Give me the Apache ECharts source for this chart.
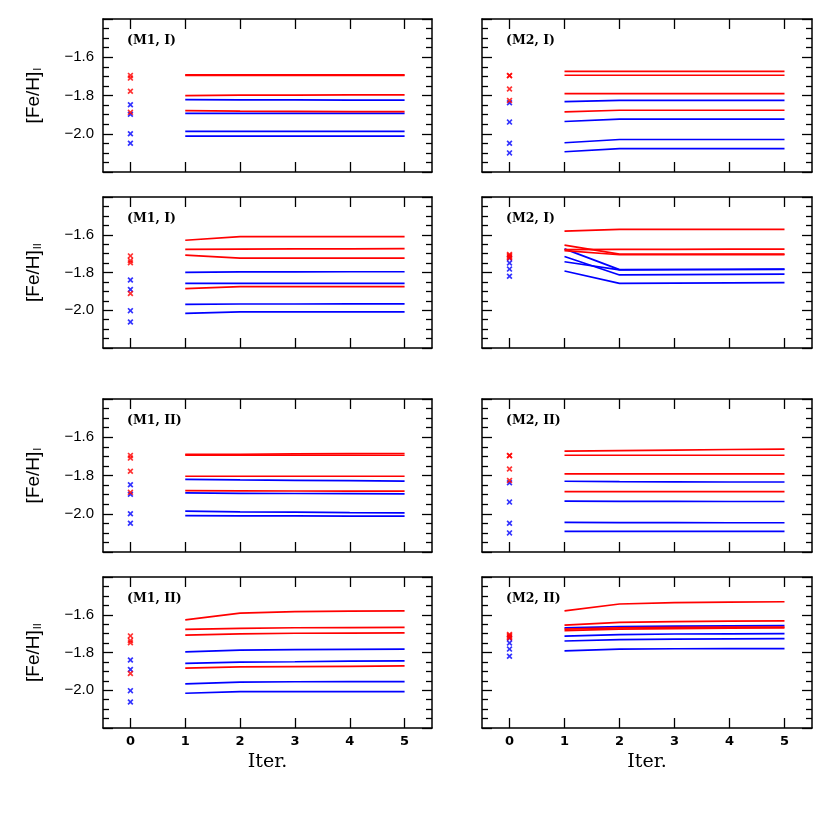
<!DOCTYPE html>
<html>
<head>
<meta charset="utf-8">
<script src="https://cdn.jsdelivr.net/npm/echarts@6/dist/echarts.min.js"></script>
<style>
html,body{margin:0;padding:0;background:#fff;}
#chart{width:830px;height:830px;}
</style>
</head>
<body>
<div id="chart"></div>
<script>
// ---------------- DATA ----------------
const ITER = [1, 2, 3, 4, 5];
const X_TICKS = [0, 1, 2, 3, 4, 5];
const PANEL_LABELS = ['(M1, I)', '(M2, I)', '(M1, I)', '(M2, I)', '(M1, II)', '(M2, II)', '(M1, II)', '(M2, II)'];
const ROW_NAMES = ['I', 'II', 'I', 'II'];   // subscript of [Fe/H]

// initial values (iteration 0)
const initL_FeI_red   = [-1.695, -1.709, -1.778, -1.888];
const initL_FeI_blue  = [-1.848, -1.898, -2.000, -2.050];
const initR_FeI_red   = [-1.695, -1.697, -1.766, -1.826];
const initR_FeI_blue  = [-1.838, -1.939, -2.050, -2.100];
const initL_FeII_red  = [-1.712, -1.737, -1.748, -1.911];
const initL_FeII_blue = [-1.840, -1.890, -2.002, -2.062];
const initR_FeII_red  = [-1.705, -1.710, -1.716, -1.722];
const initR_FeII_blue = [-1.724, -1.750, -1.782, -1.820];

// panel 1 : (M1, I)  [Fe/H]_I
const p1_red = [
  [-1.692, -1.692, -1.692, -1.692, -1.692],
  [-1.695, -1.695, -1.695, -1.695, -1.695],
  [-1.801, -1.798, -1.798, -1.797, -1.797],
  [-1.879, -1.882, -1.883, -1.884, -1.884]];
const p1_blue = [
  [-1.822, -1.823, -1.823, -1.824, -1.824],
  [-1.893, -1.893, -1.893, -1.893, -1.893],
  [-1.988, -1.988, -1.988, -1.988, -1.988],
  [-2.012, -2.012, -2.012, -2.012, -2.012]];
// panel 2 : (M2, I)  [Fe/H]_I
const p2_red = [
  [-1.674, -1.674, -1.674, -1.674, -1.674],
  [-1.694, -1.694, -1.694, -1.694, -1.694],
  [-1.790, -1.790, -1.790, -1.790, -1.790],
  [-1.886, -1.877, -1.877, -1.877, -1.877]];
const p2_blue = [
  [-1.832, -1.826, -1.825, -1.825, -1.825],
  [-1.936, -1.924, -1.924, -1.924, -1.924],
  [-2.047, -2.030, -2.030, -2.030, -2.030],
  [-2.094, -2.078, -2.078, -2.078, -2.078]];
// panel 3 : (M1, I)  [Fe/H]_II
const p3_red = [
  [-1.629, -1.610, -1.610, -1.610, -1.610],
  [-1.677, -1.676, -1.675, -1.675, -1.674],
  [-1.708, -1.724, -1.724, -1.724, -1.724],
  [-1.885, -1.875, -1.875, -1.875, -1.875]];
const p3_blue = [
  [-1.799, -1.797, -1.797, -1.796, -1.796],
  [-1.858, -1.858, -1.858, -1.858, -1.858],
  [-1.969, -1.967, -1.967, -1.966, -1.966],
  [-2.017, -2.009, -2.009, -2.009, -2.009]];
// panel 4 : (M2, I)  [Fe/H]_II
const p4_red = [
  [-1.581, -1.571, -1.571, -1.571, -1.571],
  [-1.655, -1.703, -1.703, -1.703, -1.703],
  [-1.679, -1.677, -1.677, -1.676, -1.676],
  [-1.684, -1.706, -1.706, -1.705, -1.705]];
const p4_blue = [
  [-1.675, -1.785, -1.784, -1.783, -1.782],
  [-1.715, -1.813, -1.811, -1.810, -1.809],
  [-1.743, -1.786, -1.785, -1.784, -1.783],
  [-1.792, -1.858, -1.856, -1.855, -1.854]];
// panel 5 : (M1, II)  [Fe/H]_I
const p5_red = [
  [-1.690, -1.689, -1.687, -1.686, -1.685],
  [-1.693, -1.693, -1.694, -1.694, -1.694],
  [-1.804, -1.804, -1.804, -1.804, -1.804],
  [-1.879, -1.880, -1.881, -1.882, -1.882]];
const p5_blue = [
  [-1.820, -1.823, -1.825, -1.827, -1.829],
  [-1.891, -1.893, -1.894, -1.895, -1.896],
  [-1.986, -1.990, -1.992, -1.994, -1.995],
  [-2.010, -2.011, -2.011, -2.012, -2.012]];
// panel 6 : (M2, II)  [Fe/H]_I
const p6_red = [
  [-1.673, -1.670, -1.667, -1.664, -1.662],
  [-1.694, -1.694, -1.694, -1.694, -1.694],
  [-1.792, -1.792, -1.792, -1.792, -1.792],
  [-1.884, -1.884, -1.884, -1.884, -1.884]];
const p6_blue = [
  [-1.830, -1.832, -1.833, -1.834, -1.834],
  [-1.934, -1.935, -1.935, -1.936, -1.936],
  [-2.045, -2.046, -2.046, -2.047, -2.047],
  [-2.092, -2.092, -2.092, -2.092, -2.092]];
// panel 7 : (M1, II)  [Fe/H]_II
const p7_red = [
  [-1.627, -1.591, -1.583, -1.581, -1.579],
  [-1.677, -1.672, -1.669, -1.668, -1.667],
  [-1.708, -1.701, -1.698, -1.697, -1.696],
  [-1.883, -1.876, -1.875, -1.873, -1.871]];
const p7_blue = [
  [-1.797, -1.787, -1.785, -1.783, -1.782],
  [-1.858, -1.851, -1.849, -1.846, -1.844],
  [-1.966, -1.957, -1.955, -1.954, -1.954],
  [-2.016, -2.007, -2.007, -2.007, -2.007]];
// panel 8 : (M2, II)  [Fe/H]_II
const p8_red = [
  [-1.579, -1.543, -1.536, -1.533, -1.531],
  [-1.655, -1.640, -1.636, -1.634, -1.632],
  [-1.676, -1.670, -1.667, -1.666, -1.665],
  [-1.684, -1.676, -1.673, -1.671, -1.670]];
const p8_blue = [
  [-1.670, -1.663, -1.660, -1.659, -1.658],
  [-1.713, -1.705, -1.702, -1.701, -1.700],
  [-1.739, -1.732, -1.729, -1.728, -1.727],
  [-1.791, -1.782, -1.780, -1.779, -1.779]];

// ---------------- BUILD ----------------
const panels = [
  {red0: initL_FeI_red,  blue0: initL_FeI_blue,  red: p1_red, blue: p1_blue},
  {red0: initR_FeI_red,  blue0: initR_FeI_blue,  red: p2_red, blue: p2_blue},
  {red0: initL_FeII_red, blue0: initL_FeII_blue, red: p3_red, blue: p3_blue},
  {red0: initR_FeII_red, blue0: initR_FeII_blue, red: p4_red, blue: p4_blue},
  {red0: initL_FeI_red,  blue0: initL_FeI_blue,  red: p5_red, blue: p5_blue},
  {red0: initR_FeI_red,  blue0: initR_FeI_blue,  red: p6_red, blue: p6_blue},
  {red0: initL_FeII_red, blue0: initL_FeII_blue, red: p7_red, blue: p7_blue},
  {red0: initR_FeII_red, blue0: initR_FeII_blue, red: p8_red, blue: p8_blue}
];

const RED = '#ff0000', BLUE = '#0000ff';
const XMARK = 'path://M0,2L2,0L5,3L8,0L10,2L7,5L10,8L8,10L5,7L2,10L0,8L3,5Z';
const tops = [19, 197, 399, 577];
const heights = [153, 151, 153, 151];
const lefts = [103, 482];
const widths = [329, 330];

const lineCol = {color: '#000', width: 1.5};
const tickCol = {color: '#000', width: 1.3};
const yFmt = v => (Math.abs(v + 1.4) < 1e-6 || Math.abs(v + 2.2) < 1e-6) ? '' : '\u2212' + Math.abs(v).toFixed(1);

const option = {animation: false, backgroundColor: '#fff', grid: [], xAxis: [], yAxis: [], series: [], graphic: []};

panels.forEach((p, i) => {
  const row = Math.floor(i / 2), col = i % 2;
  option.grid.push({left: lefts[col], width: widths[col], top: tops[row], height: heights[row], containLabel: false});
  const xBase = {gridIndex: i, type: 'value', min: -0.5, max: 5.5, splitLine: {show: false},
    axisLine: {show: true, onZero: false, lineStyle: lineCol},
    axisTick: {show: true, inside: true, length: 10, customValues: X_TICKS, lineStyle: tickCol}};
  option.xAxis.push(Object.assign({}, xBase, {
    position: 'bottom',
    axisLabel: {show: row === 3, customValues: X_TICKS, margin: 7, color: '#000',
      fontFamily: 'DejaVu Sans', fontWeight: 'bold', fontSize: 13},
    name: row === 3 ? 'Iter.' : '', nameLocation: 'middle', nameGap: 25,
    nameTextStyle: {fontFamily: 'DejaVu Serif', fontSize: 19, color: '#000'}
  }));
  option.xAxis.push(Object.assign({}, xBase, {position: 'top', axisLabel: {show: false}}));
  const yBase = {gridIndex: i, type: 'value', min: -2.2, max: -1.4, interval: 0.2, splitLine: {show: false},
    axisLine: {show: true, onZero: false, lineStyle: lineCol},
    axisTick: {show: true, inside: true, length: 10, lineStyle: tickCol},
    minorTick: {show: true, splitNumber: 4, length: 6, lineStyle: tickCol},
    minorSplitLine: {show: false}};
  option.yAxis.push(Object.assign({}, yBase, {
    position: 'left',
    axisLabel: {show: col === 0, formatter: yFmt, margin: 9, color: '#000',
      fontFamily: 'Liberation Sans', fontSize: 15},
    name: col === 0 ? '{a|[Fe/H]}{b|' + ROW_NAMES[row] + '}' : '',
    nameLocation: 'middle', nameGap: 60, nameRotate: 90,
    nameTextStyle: {color: '#000', rich: {
      a: {fontFamily: 'Liberation Sans', fontSize: 19, color: '#000'},
      b: {fontFamily: 'Liberation Sans', fontSize: 11, color: '#000', verticalAlign: 'bottom', padding: [8, 0, 0, 1]}}}
  }));
  option.yAxis.push(Object.assign({}, yBase, {position: 'right', axisLabel: {show: false}}));

  const xi = 2 * i, yi = 2 * i;
  p.blue.forEach(arr => option.series.push({type: 'line', xAxisIndex: xi, yAxisIndex: yi,
    data: ITER.map((x, k) => [x, arr[k]]), showSymbol: false, symbol: 'none',
    lineStyle: {color: BLUE, width: 1.7}, itemStyle: {color: BLUE}, silent: true}));
  p.red.forEach(arr => option.series.push({type: 'line', xAxisIndex: xi, yAxisIndex: yi,
    data: ITER.map((x, k) => [x, arr[k]]), showSymbol: false, symbol: 'none',
    lineStyle: {color: RED, width: 1.7}, itemStyle: {color: RED}, silent: true}));
  option.series.push({type: 'scatter', xAxisIndex: xi, yAxisIndex: yi, symbol: XMARK, symbolSize: 6,
    data: p.blue0.map(v => [0, v]), itemStyle: {color: BLUE}, silent: true});
  option.series.push({type: 'scatter', xAxisIndex: xi, yAxisIndex: yi, symbol: XMARK, symbolSize: 6,
    data: p.red0.map(v => [0, v]), itemStyle: {color: RED}, silent: true});

  option.graphic.push({type: 'text', left: lefts[col] + 24, top: tops[row] + 15,
    style: {text: PANEL_LABELS[i], fontFamily: 'DejaVu Serif', fontWeight: 'bold', fontSize: 12.5, fill: '#000'}});
});

const chart = echarts.init(document.getElementById('chart'), null, {renderer: 'canvas'});
chart.setOption(option);
</script>
</body>
</html>
